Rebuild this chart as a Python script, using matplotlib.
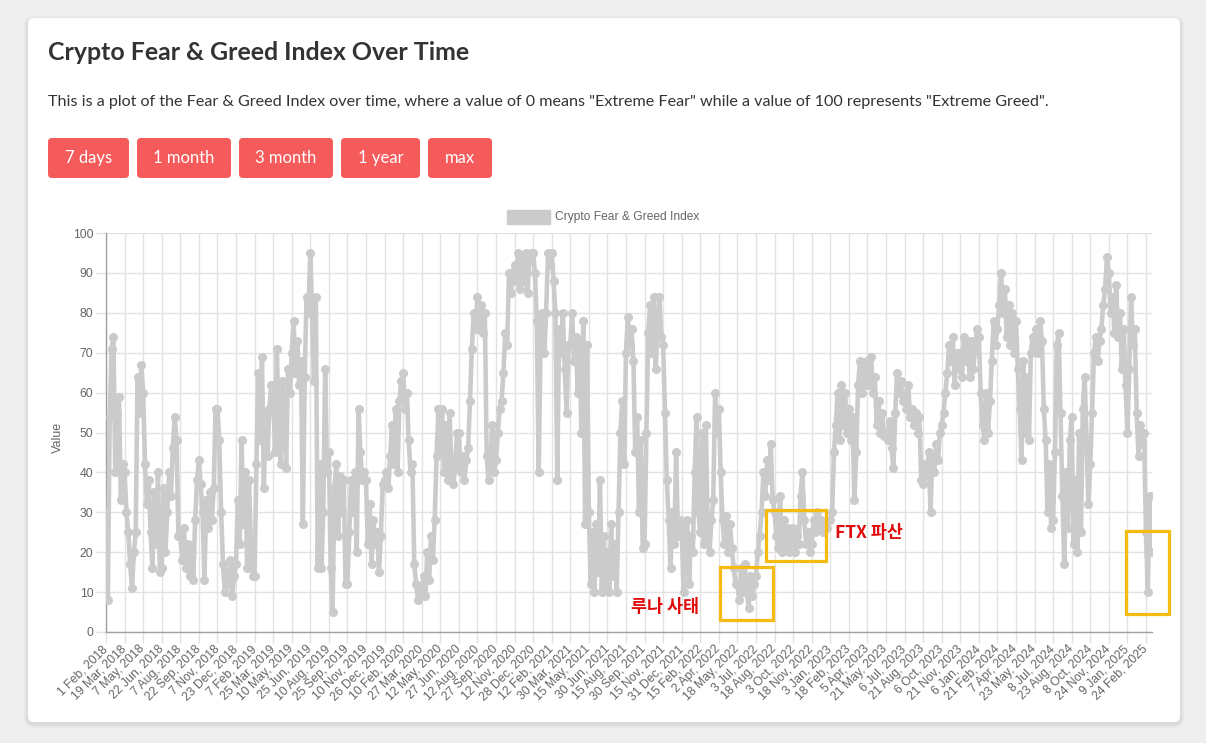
import matplotlib.pyplot as plt
from matplotlib.patches import FancyBboxPatch, Rectangle
import numpy as np

W, H = 1206, 743

# x-axis labels, one every 46 daily points (category axis)
tick_labels = [
    "1 Feb, 2018", "19 Mar, 2018", "7 May, 2018", "22 Jun, 2018", "7 Aug, 2018",
    "22 Sep, 2018", "7 Nov, 2018", "23 Dec, 2018", "7 Feb, 2019", "25 Mar, 2019",
    "10 May, 2019", "25 Jun, 2019", "10 Aug, 2019", "25 Sep, 2019", "10 Nov, 2019",
    "26 Dec, 2019", "10 Feb, 2020", "27 Mar, 2020", "12 May, 2020", "27 Jun, 2020",
    "12 Aug, 2020", "27 Sep, 2020", "12 Nov, 2020", "28 Dec, 2020", "12 Feb, 2021",
    "30 Mar, 2021", "15 May, 2021", "30 Jun, 2021", "15 Aug, 2021", "30 Sep, 2021",
    "15 Nov, 2021", "31 Dec, 2021", "15 Feb, 2022", "2 Apr, 2022", "18 May, 2022",
    "3 Jul, 2022", "18 Aug, 2022", "3 Oct, 2022", "18 Nov, 2022", "3 Jan, 2023",
    "18 Feb, 2023", "5 Apr, 2023", "21 May, 2023", "6 Jul, 2023", "21 Aug, 2023",
    "6 Oct, 2023", "21 Nov, 2023", "6 Jan, 2024", "21 Feb, 2024", "7 Apr, 2024",
    "23 May, 2024", "8 Jul, 2024", "23 Aug, 2024", "8 Oct, 2024", "24 Nov, 2024",
    "9 Jan, 2025", "24 Feb, 2025",
]
DAYS_PER_LABEL = 46
N_DAYS = 2592
DAYS_PER_SAMPLE = 4.6   # index values, 10 per label step

# values grouped by the year of the label they follow
fg_2018 = [30, 8, 54, 71, 74, 40, 55, 59, 33, 42,
           40, 30, 25, 17, 11, 20, 25, 64, 55, 67,
           60, 42, 32, 38, 25, 16, 35, 22, 40, 15,
           16, 36, 20, 30, 40, 34, 46, 54, 48, 24,
           24, 18, 26, 16, 22, 14, 20, 13, 28, 38,
           43, 37, 30, 13, 33, 26, 35, 28, 36, 56,
           56, 48, 30, 17, 10, 15, 12, 18, 9, 14,
           17, 33, 22, 48, 27, 40, 16, 38, 22, 14]
fg_2019 = [14, 42, 65, 48, 69, 36, 55, 44, 56, 62,
           62, 45, 71, 50, 42, 63, 56, 41, 66, 60,
           70, 78, 65, 73, 62, 68, 27, 64, 84, 80,
           95, 80, 63, 84, 16, 42, 16, 30, 66, 40,
           45, 16, 5, 36, 42, 24, 39, 30, 38, 12,
           12, 25, 38, 30, 40, 20, 56, 45, 38, 40,
           38, 22, 32, 17, 28, 22, 25, 15, 24, 37,
           38, 40, 36, 44, 52, 42, 56, 40, 58, 63]
fg_2020 = [65, 56, 60, 48, 40, 42, 17, 12, 8, 11,
           10, 14, 9, 20, 13, 24, 18, 28, 44, 56,
           45, 56, 40, 52, 38, 55, 42, 37, 41, 50,
           50, 40, 44, 38, 43, 46, 58, 71, 80, 76,
           84, 76, 82, 75, 80, 44, 38, 42, 52, 40,
           43, 50, 56, 58, 65, 75, 72, 90, 85, 90,
           92, 88, 95, 86, 94, 88, 95, 85, 93, 95,
           95, 90, 78, 40, 72, 80, 70, 80, 95, 92]
fg_2021 = [95, 88, 80, 38, 76, 70, 80, 66, 55, 72,
           72, 80, 68, 74, 60, 73, 50, 78, 27, 72,
           30, 12, 25, 10, 27, 15, 38, 10, 24, 12,
           20, 10, 27, 14, 22, 10, 30, 50, 58, 42,
           70, 79, 72, 76, 68, 45, 54, 30, 48, 21,
           22, 50, 75, 82, 70, 84, 66, 76, 84, 74,
           72, 55, 38, 28, 16, 30, 22, 45, 24, 28,
           26, 10, 22, 28, 12, 24, 20, 40, 54, 30]
fg_2022 = [25, 50, 22, 52, 26, 20, 28, 33, 60, 50,
           56, 40, 28, 22, 29, 20, 27, 21, 16, 12,
           12, 8, 16, 10, 17, 11, 6, 14, 9, 12,
           14, 20, 24, 30, 40, 34, 43, 38, 47, 33,
           30, 24, 21, 34, 20, 28, 22, 26, 20, 25,
           26, 20, 24, 22, 34, 40, 28, 22, 25, 20,
           22, 28, 25, 30, 26, 28, 25, 27, 26, 28]
fg_2023 = [28, 30, 45, 52, 60, 48, 62, 52, 60, 50,
           56, 48, 54, 33, 45, 62, 68, 60, 66, 62,
           68, 62, 69, 60, 64, 52, 58, 50, 55, 49,
           50, 48, 53, 46, 41, 55, 65, 60, 63, 58,
           60, 56, 62, 54, 56, 52, 55, 50, 54, 38,
           37, 42, 39, 45, 30, 44, 40, 47, 43, 50,
           52, 55, 60, 65, 72, 68, 74, 62, 70, 66,
           70, 64, 74, 68, 72, 64, 73, 66, 71, 76]
fg_2024 = [74, 60, 52, 48, 60, 50, 58, 68, 78, 72,
           76, 82, 90, 80, 86, 74, 82, 72, 80, 70,
           78, 66, 56, 43, 68, 50, 64, 48, 70, 74,
           72, 76, 70, 78, 73, 56, 48, 30, 42, 26,
           28, 45, 72, 75, 55, 34, 17, 40, 26, 48,
           54, 22, 38, 20, 50, 25, 56, 64, 48, 32,
           42, 55, 70, 74, 68, 73, 76, 82, 86, 94,
           90, 80, 84, 75, 87, 74, 80, 66, 76, 62]
fg_2025 = [50, 66, 84, 72, 76, 55, 44, 52, 47, 50,
           25, 10, 34, 20]

values = fg_2018 + fg_2019 + fg_2020 + fg_2021 + fg_2022 + fg_2023 + fg_2024 + fg_2025
x = np.arange(len(values)) * DAYS_PER_SAMPLE

buttons = ["7 days", "1 month", "3 month", "1 year", "max"]
button_x = [(48, 129), (137, 231), (239, 333), (341, 420), (428, 492)]

LINE = '#cbcbcb'
TXT = '#666666'
PAGE_FONT = ['Lato', 'DejaVu Sans']
CHART_FONT = ['Liberation Sans', 'DejaVu Sans']
KR_FONT = ['Noto Sans CJK KR', 'DejaVu Sans']

fig = plt.figure(figsize=(W / 100, H / 100), dpi=100)
fig.patch.set_facecolor('#eeeeee')

# page background, card, header, buttons (pixel coordinates)
bg = fig.add_axes([0, 0, 1, 1])
bg.set_xlim(0, W)
bg.set_ylim(H, 0)
bg.axis('off')
for i in range(1, 5):
    bg.add_patch(FancyBboxPatch((28 - i, 18 - i + 2), 1152 + 2 * i, 704 + 2 * i,
                                boxstyle='round,pad=0,rounding_size=%d' % (6 + i),
                                fc='black', ec='none', alpha=0.018))
bg.add_patch(FancyBboxPatch((28, 18), 1152, 704, boxstyle='round,pad=0,rounding_size=6',
                            fc='white', ec='none'))
bg.text(48, 52, "Crypto Fear & Greed Index Over Time", fontsize=17.9, fontweight='bold',
        color='#333333', va='center', ha='left', family=PAGE_FONT)
bg.text(48, 102, 'This is a plot of the Fear & Greed Index over time, where a value of 0 means '
        '"Extreme Fear" while a value of 100 represents "Extreme Greed".',
        fontsize=11.65, color='#333333', va='center', ha='left', family=PAGE_FONT)
for lab, (x0, x1) in zip(buttons, button_x):
    bg.add_patch(FancyBboxPatch((x0, 138), x1 - x0, 40, boxstyle='round,pad=0,rounding_size=4',
                                fc='#f65b5b', ec='none'))
    bg.text((x0 + x1) / 2, 158, lab, color='white', fontsize=12, ha='center', va='center',
            family=PAGE_FONT)

# legend like chart.js
bg.add_patch(Rectangle((507, 210), 43, 14, fc=LINE, ec=LINE))
bg.text(555, 217, "Crypto Fear & Greed Index", fontsize=8.65, color=TXT, va='center', ha='left',
        family=CHART_FONT)
bg.text(58, 437, "Value", fontsize=9, color=TXT, rotation=90, va='center', ha='center',
        family=CHART_FONT)

# chart
ax = fig.add_axes([106 / W, 1 - 632 / H, (1152 - 106) / W, (632 - 233) / H])
ax.set_facecolor('none')
ax.plot(x, values, color=LINE, lw=3.3, marker='o', ms=5.5, mfc=LINE, mec=LINE,
        solid_joinstyle='round', zorder=3)
ax.set_xlim(0, N_DAYS - 1)
ax.set_ylim(0, 100)
ax.set_yticks(range(0, 101, 10))
ax.set_xticks(np.arange(len(tick_labels)) * DAYS_PER_LABEL)
ax.set_xticklabels(tick_labels, rotation=45, ha='right', va='center', rotation_mode='anchor',
                   fontsize=8.8, color=TXT, family=CHART_FONT)
for t in ax.get_yticklabels():
    t.set_family(CHART_FONT)
ax.tick_params(axis='y', length=7, width=1, color='#e2e2e2', labelsize=8.8, labelcolor=TXT, pad=2)
ax.tick_params(axis='x', length=8, width=1, color='#e2e2e2', pad=3)
ax.grid(True, color='#e2e2e2', lw=1, zorder=0)
ax.set_axisbelow(True)
for s in ['top', 'right']:
    ax.spines[s].set_visible(False)
for s in ['left', 'bottom']:
    ax.spines[s].set_color('#a0a0a0')
    ax.spines[s].set_linewidth(1)

# annotations added on the screenshot
GOLD = '#f6bb12'
RED = '#e00b0b'
ax.add_patch(Rectangle((1521, 3.0), 131, 13.4, fill=False, ec=GOLD, lw=2.3, clip_on=False, zorder=6))
ax.add_patch(Rectangle((1635, 17.8), 148, 12.8, fill=False, ec=GOLD, lw=2.3, clip_on=False, zorder=6))
ax.add_patch(Rectangle((2527, 4.5), 106, 20.8, fill=False, ec=GOLD, lw=2.3, clip_on=False, zorder=6))
ax.text(1385, 6.3, "루나 사태", color=RED, fontsize=12.5, fontweight='bold', ha='center',
        va='center', family=KR_FONT, zorder=6)
ax.text(1806, 24.8, "FTX 파산", color=RED, fontsize=12.5, fontweight='bold', ha='left',
        va='center', family=KR_FONT, zorder=6)

fig.savefig('out.png', dpi=100, facecolor=fig.get_facecolor())
